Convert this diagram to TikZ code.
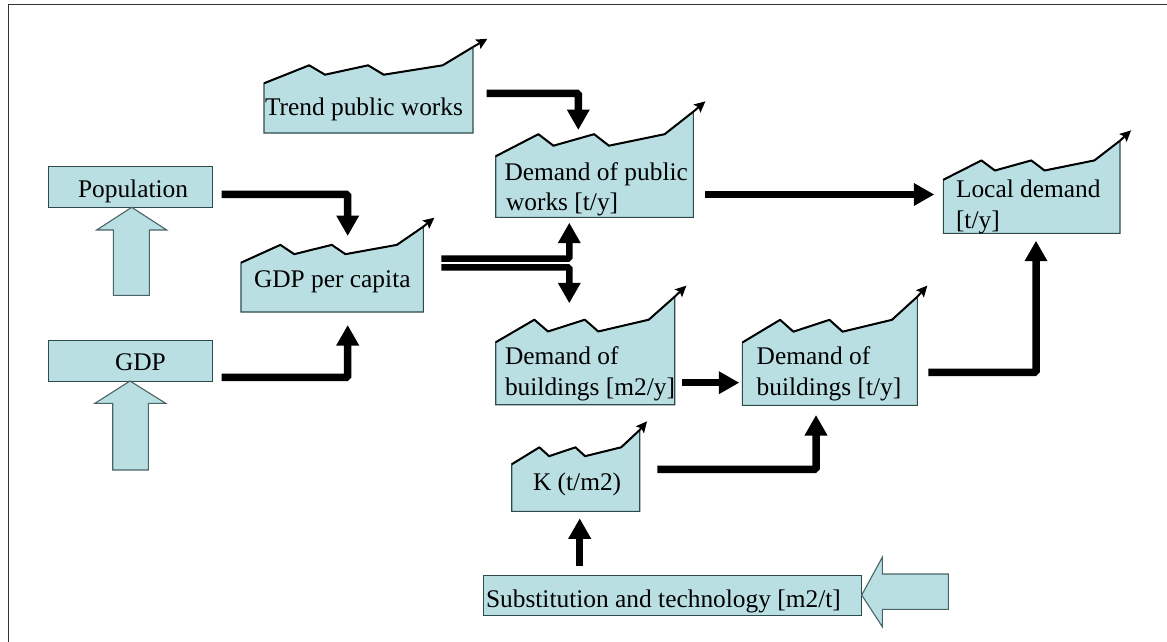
\documentclass[tikz,border=0pt]{standalone}
\usepackage{fontspec}
\setmainfont{Liberation Serif}
\usetikzlibrary{arrows.meta}
\definecolor{boxfill}{HTML}{B9DFE3}
\definecolor{boxline}{HTML}{2F4A4C}
\definecolor{bigline}{HTML}{4A6466}
\tikzset{
  x=1pt,y=-1pt,
  framerule/.style={draw=black!80,line width=1.8pt},
  boxrect/.style={draw=boxline,fill=boxfill,line width=1pt,inner sep=0pt,outer sep=0pt,anchor=center},
  bodybox/.style={inner sep=0pt,outer sep=0pt,anchor=center},
  trendfill/.style={fill=boxfill,draw=boxline,line width=1.1pt,line join=miter},
  trendline/.style={draw=black,line width=2pt,line join=round,-{Stealth[length=11pt,width=10.5pt,inset=2pt]},shorten >=-0.5pt},
  bigarrow/.style={draw=bigline,fill=boxfill,line width=1.1pt,line join=miter},
  flow/.style={draw=black,line width=7.5pt,rounded corners=1.5pt,-{Triangle[length=20.5pt,width=21.5pt]}},
  label/.style={inner sep=0pt,outer sep=0pt,anchor=base west,font=\fontsize{25.4}{30}\selectfont,text=black},
}
% name, x0, ytop, x1, ybottom, tip x, tip y
\newcommand\trendshape[7]{%
  \pgfmathsetmacro\tw{#4-#2}\pgfmathsetmacro\th{#5-#3}%
  \pgfmathsetmacro\cx{(#2+#4)/2}\pgfmathsetmacro\cy{(#3+#5)/2}%
  \node[bodybox,minimum width=\tw pt,minimum height=\th pt] (#1) at (\cx,\cy) {};
  \begin{scope}[shift={(#2,#5)},x=\tw pt,y=\th pt]
    \path[trendfill] (0,0) -- (0,.578) -- (.216,.787) -- (.292,.678) -- (.498,.787) -- (.573,.678) -- (.855,.787) -- (1,1) -- (1,0) -- cycle;
    \draw[line width=2pt,line join=round] (0,.578) -- (.216,.787) -- (.292,.678) -- (.498,.787) -- (.573,.678) -- (.855,.787) -- (1,1);
  \end{scope}
  \draw[trendline] (#4,#3) -- (#6,#7);
}
\begin{document}
\begin{tikzpicture}
\useasboundingbox (0,0) rectangle (1167,642);
\fill[white] (0,0) rectangle (1167,642);
\draw[framerule] (8.5,642) -- (8.5,4.5) -- (1167,4.5);

% plain boxes
\node[boxrect,minimum width=164.4pt,minimum height=40.6pt] (pop) at (130.5,187) {};
\node[boxrect,minimum width=164.4pt,minimum height=41pt] (gdp) at (130.5,360.5) {};
\node[boxrect,minimum width=377.7pt,minimum height=40pt] (sub) at (672.15,595) {};

% outline arrows
\path[bigarrow] (131.7,207.3) -- (166.7,230) -- (149.3,230) -- (149.3,295.3) -- (113.3,295.3) -- (113.3,230) -- (96.7,230) -- cycle;
\path[bigarrow] (130,381) -- (165.7,403.3) -- (148.3,403.3) -- (148.3,470) -- (112.7,470) -- (112.7,403.3) -- (95,403.3) -- cycle;
\path[bigarrow] (861.7,595) -- (882.3,557.3) -- (882.3,574) -- (948.3,574) -- (948.3,609.3) -- (882.3,609.3) -- (882.3,626.7) -- cycle;

% trend shapes
\trendshape{trend}{264}{47}{473}{133}{487}{39}
\trendshape{dpw}{495.7}{111.7}{693.3}{217.3}{705}{101.7}
\trendshape{gpc}{241}{226.7}{423.3}{312}{434}{218}
\trendshape{dbm}{495.7}{296.7}{674.7}{404.7}{686}{286}
\trendshape{dbt}{742.3}{296.7}{917.3}{405.3}{927}{286}
\trendshape{kk}{511.7}{430}{639.7}{511.3}{646.7}{421.7}
\trendshape{local}{943.3}{140.7}{1120}{233.3}{1130.7}{130.7}

% labels
\node[label] (tpop) at (78,197.7) {Population};
\node[label] (tgdp) at (115,370) {GDP};
\node[label] (ttrend) at (265,115) {Trend public works};
\node[label] (tdpw1) at (504.5,180.7) {Demand of public};
\node[label] (tdpw2) at (506,210.7) {works [t/y]};
\node[label] (tgpc) at (254,287) {GDP per capita};
\node[label] (tdbm1) at (505,364.3) {Demand of};
\node[label] (tdbm2) at (505,395) {buildings [m2/y]};
\node[label] (tdbt1) at (756.7,364.3) {Demand of};
\node[label] (tdbt2) at (756.7,395) {buildings [t/y]};
\node[label] (tk) at (533,490.7) {K (t/m2)};
\node[label] (tsub) at (486,607.3) {Substitution and technology [m2/t]};
\node[label] (tloc1) at (956,197.7) {Local demand};
\node[label] (tloc2) at (956,228.3) {[t/y]};

% connectors
\draw[flow] ([shift={(9,7.3)}]pop.east) -| ([shift={(15.55,9.3)}]gpc.north);
\draw[flow] ([shift={(9,16.8)}]gdp.east) -| ([shift={(15.55,13)}]gpc.south);
\draw[flow] ([shift={(13.7,3.3)}]trend.east) -| ([shift={(-16.2,18.3)}]dpw.north);
\draw[flow,line width=6.5pt] ([shift={(18,-10.65)}]gpc.east) -| ([shift={(-25.2,5.4)}]dpw.south);
\draw[flow,line width=6.5pt] ([shift={(18,-2.05)}]gpc.east) -| ([shift={(-15.9,6.6)}]dbm.north);
\draw[flow] ([shift={(11.7,30)}]dpw.east) -- ([shift={(-9,7.5)}]local.west);
\draw[flow] ([shift={(7,32)}]dbm.east) -- ([shift={(-3,31.7)}]dbt.west);
\draw[flow] ([shift={(11,21.3)}]dbt.east) -| ([shift={(4.35,7.4)}]local.south);
\draw[flow] ([shift={(17.6,-1.35)}]kk.east) -| ([shift={(-13.8,9.7)}]dbt.south);
\draw[flow] ([shift={(-92.45,-9)}]sub.north) -- ([shift={(4,7)}]kk.south);
\end{tikzpicture}
\end{document}
